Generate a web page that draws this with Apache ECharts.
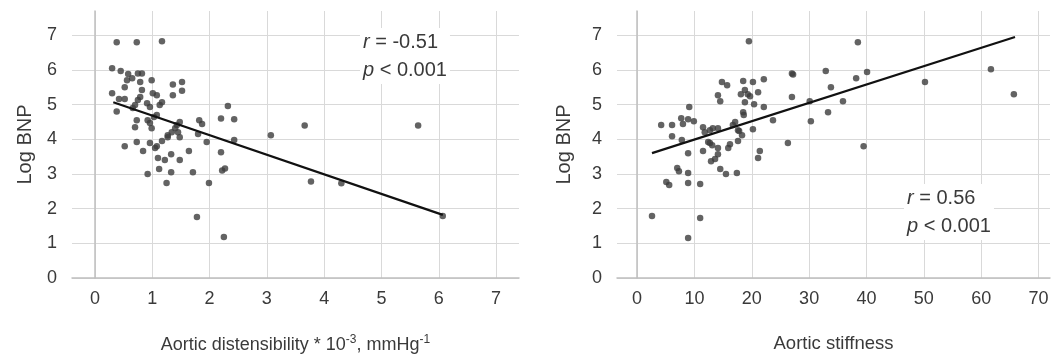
<!DOCTYPE html>
<html>
<head>
<meta charset="utf-8">
<script src="https://cdn.jsdelivr.net/npm/echarts@6/dist/echarts.min.js"></script>
<style>
  html, body { margin: 0; padding: 0; background: #fff; }
  #chart { width: 1052px; height: 360px; }
</style>
</head>
<body>
<div id="chart"></div>
<script>
// tick labels
const distTicks = [0, 1, 2, 3, 4, 5, 6, 7];
const stiffTicks = [0, 10, 20, 30, 40, 50, 60, 70];
const bnpTicks = [0, 1, 2, 3, 4, 5, 6, 7];

// left panel: aortic distensibility vs log BNP
const distPoints = [
  [0.38, 6.8], [0.73, 6.8], [1.17, 6.83],
  [0.3, 6.05], [0.45, 5.97], [0.58, 5.88], [0.56, 5.7], [0.52, 5.5], [0.75, 5.9], [0.82, 5.9],
  [0.65, 5.76], [0.79, 5.65], [0.99, 5.7], [1.36, 5.58], [1.52, 5.65], [1.52, 5.4], [1.36, 5.27],
  [0.3, 5.33], [0.42, 5.16], [0.52, 5.16], [0.38, 4.8], [0.82, 5.42], [0.79, 5.22], [0.75, 5.13],
  [1.01, 5.33], [1.08, 5.27], [1.17, 5.07], [1.13, 4.99], [0.91, 5.04], [0.96, 4.93], [0.7, 4.99],
  [0.66, 4.9], [1.03, 4.64], [1.08, 4.7],
  [0.73, 4.55], [0.7, 4.35], [0.92, 4.55], [0.96, 4.47], [0.99, 4.32], [1.27, 4.12], [1.34, 4.2],
  [1.4, 4.32], [1.43, 4.41],
  [1.48, 4.5], [1.82, 4.55], [1.87, 4.44], [1.45, 4.2], [1.48, 4.06], [1.8, 4.15], [2.43, 3.98],
  [1.95, 3.92], [1.64, 3.66], [2.2, 3.63], [1.48, 3.4],
  [2.2, 4.6], [2.32, 4.96], [2.43, 4.58],
  [0.52, 3.8], [0.73, 3.92], [0.84, 3.66], [0.96, 3.89], [1.05, 3.75], [1.08, 3.8], [1.17, 3.95],
  [1.27, 4.06], [1.1, 3.46], [1.22, 3.4], [1.33, 3.57], [0.92, 3.0], [1.12, 3.14], [1.33, 3.05],
  [1.25, 2.74],
  [1.71, 3.05], [1.99, 2.74], [2.22, 3.1], [2.27, 3.16], [1.78, 1.76], [2.25, 1.18],
  [3.07, 4.12], [3.66, 4.4], [5.64, 4.4], [3.77, 2.78], [4.3, 2.73], [6.07, 1.79]
];
const distFit = [[0.32, 5.07], [6.07, 1.82]];

// right panel: aortic stiffness vs log BNP
const stiffPoints = [
  [19.5, 6.83],
  [14.8, 5.65], [15.7, 5.56], [14.1, 5.27], [14.5, 5.1], [18.5, 5.68], [20.2, 5.65], [22.1, 5.73],
  [18.1, 5.3], [18.8, 5.42], [19.3, 5.3], [19.7, 5.24], [21.1, 5.36], [18.8, 5.07], [20.4, 5.01],
  [22.1, 4.93], [18.5, 4.78], [18.6, 4.7], [23.7, 4.55], [20.2, 4.29], [17.1, 4.5], [17.8, 4.24],
  [9.1, 4.93], [4.2, 4.41], [6.1, 4.41], [7.7, 4.61], [8.0, 4.44], [8.9, 4.58], [9.9, 4.52],
  [6.1, 4.09], [7.8, 3.98], [8.9, 3.6], [11.5, 3.66], [7.0, 3.17], [7.3, 3.08], [8.9, 3.03],
  [8.9, 2.74], [11.0, 2.71], [5.1, 2.77], [5.6, 2.68], [2.6, 1.79], [11.0, 1.73], [8.9, 1.15],
  [11.5, 4.35], [11.8, 4.2], [12.7, 4.26], [13.2, 4.32], [14.1, 4.32], [12.4, 3.92], [13.1, 3.83],
  [16.7, 4.41], [17.6, 4.26], [18.3, 4.12],
  [12.7, 3.89], [14.1, 3.75], [14.1, 3.57], [13.6, 3.43], [12.9, 3.37], [15.9, 3.75], [16.2, 3.86],
  [17.6, 3.95], [14.5, 3.14], [15.5, 3.0], [17.4, 3.03], [21.4, 3.66], [21.1, 3.46], [26.3, 3.89],
  [27.0, 5.9], [27.2, 5.87], [32.9, 5.97], [40.1, 5.94], [38.2, 5.76], [33.8, 5.5], [27.0, 5.22],
  [30.1, 5.1], [35.9, 5.1], [33.3, 4.78], [30.3, 4.52], [38.5, 6.8], [39.5, 3.8],
  [50.2, 5.65], [61.7, 6.02], [65.7, 5.3]
];
const stiffFit = [[2.6, 3.6], [65.9, 6.95]];

const distStats = { r: '-0.51', p: '0.001' };
const stiffStats = { r: '0.56', p: '0.001' };

const FONT = '"Liberation Sans", Arial, sans-serif';
const TEXT = '#3a3a3a';
const DOT = '#3c3c3c';

const chart = echarts.init(document.getElementById('chart'), null, { renderer: 'canvas' });

function xAxisFor(grid, min, max, ticks, name) {
  return {
    type: 'value', gridIndex: grid, min, max,
    name, nameLocation: 'middle', nameGap: 56,
    nameTextStyle: {
      color: TEXT, fontFamily: FONT, fontSize: 18.5,
      rich: {
        a: { color: TEXT, fontFamily: FONT, fontSize: 18, lineHeight: 22 },
        s: { color: TEXT, fontFamily: FONT, fontSize: 12, lineHeight: 12, verticalAlign: 'top' }
      }
    },
    axisLine: { show: true, lineStyle: { color: '#bfbfbf', width: 1.5 } },
    axisTick: { show: false, customValues: ticks },
    axisLabel: { customValues: ticks, color: TEXT, fontFamily: FONT, fontSize: 18, margin: 12 },
    splitLine: { show: true, lineStyle: { color: '#d9d9d9', width: 1 } }
  };
}

function yAxisFor(grid, gap) {
  return {
    type: 'value', gridIndex: grid, min: 0, max: 7.7,
    name: 'Log BNP', nameLocation: 'middle', nameGap: gap, nameRotate: 90,
    nameTextStyle: { color: TEXT, fontFamily: FONT, fontSize: 20 },
    axisLine: { show: true, lineStyle: { color: '#bfbfbf', width: 1.5 } },
    axisTick: { show: false, customValues: bnpTicks },
    axisLabel: { customValues: bnpTicks, color: TEXT, fontFamily: FONT, fontSize: 18, margin: 15 },
    splitLine: { show: true, lineStyle: { color: '#d9d9d9', width: 1 } }
  };
}

// r / p box, white background hides the gridlines behind it
function statText(s, left, top) {
  return {
    type: 'text', left, top, z: 100,
    style: {
      text: '{i|r} = ' + s.r + '\n{i|p} < ' + s.p,
      fill: TEXT, font: '20px ' + FONT, lineHeight: 28,
      backgroundColor: '#fff', padding: [0, 3],
      rich: {
        i: { fontStyle: 'italic', fontFamily: FONT, fontSize: 20, fill: TEXT, lineHeight: 28 }
      }
    }
  };
}

const option = {
  backgroundColor: '#fff',
  animation: false,
  grid: [
    { left: 72, top: 11, width: 447, height: 267 },
    { left: 617, top: 11, width: 433, height: 267 }
  ],
  xAxis: [
    xAxisFor(0, -0.4, 7.4, distTicks, '{a|Aortic distensibility * 10}{s|-3}{a|, mmHg}{s|-1}'),
    xAxisFor(1, -3.5, 72, stiffTicks, 'Aortic stiffness')
  ],
  yAxis: [yAxisFor(0, 37), yAxisFor(1, 43)],
  graphic: [statText(distStats, 360, 28), statText(stiffStats, 904, 184)],
  series: [
    {
      type: 'scatter', xAxisIndex: 0, yAxisIndex: 0, data: distPoints,
      symbolSize: 6.5, itemStyle: { color: DOT }
    },
    {
      type: 'line', xAxisIndex: 0, yAxisIndex: 0, data: distFit,
      symbol: 'none', lineStyle: { color: '#111', width: 2.2 }
    },
    {
      type: 'scatter', xAxisIndex: 1, yAxisIndex: 1, data: stiffPoints,
      symbolSize: 6.5, itemStyle: { color: DOT }
    },
    {
      type: 'line', xAxisIndex: 1, yAxisIndex: 1, data: stiffFit,
      symbol: 'none', lineStyle: { color: '#111', width: 2.2 }
    }
  ]
};

chart.setOption(option);
</script>
</body>
</html>
